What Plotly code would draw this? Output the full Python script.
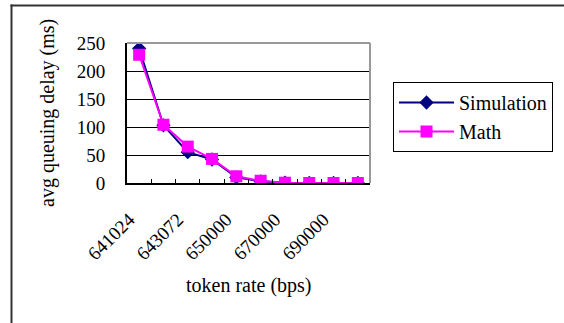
import plotly.graph_objects as go

# ---- data ----
token_rates = ["641024", "642048", "643072", "645000", "650000",
               "660000", "670000", "680000", "690000", "700000"]
shown_labels = ["641024", "643072", "650000", "670000", "690000"]
simulation = [240, 103, 55, 42, 10, 3, 0.5, 0, 0, 0]
math_vals = [229, 104, 65, 43, 12, 4, 0.5, 0, 0, 0]
y_ticks = [0, 50, 100, 150, 200, 250]

FONT = "Liberation Serif, Times New Roman, serif"
W, H = 564, 323
L, R, T, B = 127, 194, 43, 140
PW, PH = W - L - R, H - T - B


def px(x):
    return (x - L) / PW


def py(y):
    return (H - B - y) / PH


fig = go.Figure()
fig.add_trace(go.Scatter(
    x=token_rates, y=simulation, name="Simulation", mode="lines+markers",
    line=dict(color="#000080", width=2),
    marker=dict(symbol="diamond", size=11, color="#000080"),
))
fig.add_trace(go.Scatter(
    x=token_rates, y=math_vals, name="Math", mode="lines+markers",
    line=dict(color="#FF00FF", width=2),
    marker=dict(symbol="square", size=12, color="#FF00FF"),
))

fig.update_layout(
    width=W, height=H,
    margin=dict(l=L, r=R, t=T, b=B, autoexpand=False),
    paper_bgcolor="white", plot_bgcolor="white",
    font=dict(family=FONT, size=19, color="black"),
    showlegend=True,
    legend=dict(
        x=px(393), y=py(82), xanchor="left", yanchor="top",
        bordercolor="black", borderwidth=1, bgcolor="white",
        font=dict(family=FONT, size=20),
        itemwidth=55, tracegroupgap=0,
    ),
    xaxis=dict(
        type="category", range=[-0.5, 9.5],
        tickmode="array", tickvals=token_rates,
        ticktext=[t if t in shown_labels else "" for t in token_rates],
        tickson="boundaries", ticks="inside", ticklen=4, tickwidth=1,
        tickcolor="black", tickangle=-45,
        ticklabelstandoff=16, ticklabelshift=-10,
        showline=True, linecolor="black", linewidth=2,
        showgrid=False, zeroline=False,
        tickfont=dict(family=FONT, size=19),
    ),
    yaxis=dict(
        range=[0, 250], tickmode="array", tickvals=y_ticks,
        showline=True, linecolor="black", linewidth=2,
        showgrid=True, gridcolor="black", gridwidth=1,
        zeroline=False, ticks="", ticklabelstandoff=16,
        tickfont=dict(family=FONT, size=19),
    ),
    annotations=[
        dict(text="avg queuing delay (ms)", xref="paper", yref="paper",
             x=px(47), y=py(113), textangle=-90, showarrow=False,
             xanchor="center", yanchor="middle",
             font=dict(family=FONT, size=20)),
        dict(text="token rate (bps)", xref="paper", yref="paper",
             x=px(249), y=py(285), showarrow=False,
             xanchor="center", yanchor="middle",
             font=dict(family=FONT, size=20)),
    ],
    shapes=[
        # plot area border (top and right, gray)
        dict(type="line", xref="paper", yref="paper", x0=0, x1=1, y0=1, y1=1,
             line=dict(color="#999999", width=2), layer="above"),
        dict(type="line", xref="paper", yref="paper", x0=1, x1=1, y0=0, y1=1,
             line=dict(color="#999999", width=2), layer="above"),
        # outer chart frame (left and top edges visible)
        dict(type="line", xref="paper", yref="paper",
             x0=px(11.5), x1=px(11.5), y0=py(330), y1=py(4.5),
             line=dict(color="#333333", width=2), layer="below"),
        dict(type="line", xref="paper", yref="paper",
             x0=px(10.5), x1=px(570), y0=py(5.5), y1=py(5.5),
             line=dict(color="#333333", width=2), layer="below"),
    ],
)

fig.write_html(
    "out.html",
    config={"displayModeBar": False},
    post_script="document.body.style.margin='0';document.body.style.overflow='hidden';",
)
